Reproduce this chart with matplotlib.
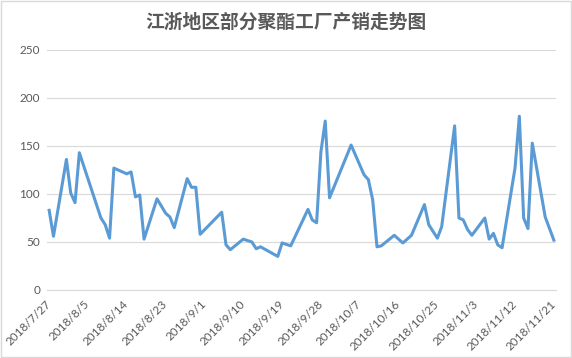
import matplotlib
matplotlib.use("Agg")
import matplotlib.pyplot as plt
import matplotlib.transforms as mtransforms
import pandas as pd
from matplotlib.patches import Rectangle

# trading days and sales ratio (%)
dates = [
    "2018-07-27", "2018-07-28", "2018-07-31", "2018-08-01", "2018-08-02", "2018-08-03",
    "2018-08-08", "2018-08-09", "2018-08-10", "2018-08-11", "2018-08-14", "2018-08-15",
    "2018-08-16", "2018-08-17", "2018-08-18", "2018-08-21", "2018-08-23", "2018-08-24",
    "2018-08-25", "2018-08-28", "2018-08-29", "2018-08-30", "2018-08-31", "2018-09-05",
    "2018-09-06", "2018-09-07", "2018-09-10", "2018-09-12", "2018-09-13", "2018-09-14",
    "2018-09-18", "2018-09-19", "2018-09-21", "2018-09-25", "2018-09-26", "2018-09-27",
    "2018-09-28", "2018-09-29", "2018-09-30", "2018-10-05", "2018-10-08", "2018-10-09",
    "2018-10-10", "2018-10-11", "2018-10-12", "2018-10-15", "2018-10-17", "2018-10-19",
    "2018-10-22", "2018-10-23", "2018-10-25", "2018-10-26", "2018-10-29", "2018-10-30",
    "2018-10-31", "2018-11-01", "2018-11-02", "2018-11-05", "2018-11-06", "2018-11-07",
    "2018-11-08", "2018-11-09", "2018-11-12", "2018-11-13", "2018-11-14", "2018-11-15",
    "2018-11-16", "2018-11-19", "2018-11-21",
]
values = [
    83, 56, 136, 101, 91, 143,
    75, 68, 54, 127, 121, 123,
    97, 99, 53, 95, 80, 76,
    65, 116, 107, 107, 58, 81,
    47, 42, 53, 50, 43, 45,
    35, 49, 46, 84, 73, 70,
    144, 176, 96, 151, 120, 115,
    94, 45, 46, 57, 49, 57,
    89, 68, 54, 66, 171, 75,
    73, 63, 57, 75, 53, 59,
    47, 44, 127, 181, 75, 64,
    153, 76, 52,
]
title = "江浙地区部分聚酯工厂产销走势图"

x = pd.to_datetime(dates)
tick_dates = pd.date_range("2018-07-27", "2018-11-21", freq="9D")
tick_labels = [f"{d.year}/{d.month}/{d.day}" for d in tick_dates]

fig = plt.figure(figsize=(5.72, 3.58), dpi=100)
ax = fig.add_axes([47 / 572, 68 / 358, 509 / 572, 240 / 358])

ax.plot(x, values, color="#5B9BD5", linewidth=2.2, solid_joinstyle="round")

ax.set_xlim(x[0] - pd.Timedelta(hours=12), pd.Timestamp("2018-11-21") + pd.Timedelta(hours=12))
ax.set_ylim(0, 250)
ax.set_yticks(range(0, 251, 50))
ax.set_xticks(tick_dates)
ax.set_xticklabels(tick_labels, rotation=45, ha="right", va="center",
                   rotation_mode="anchor", fontsize=8.5, color="#595959", family="Lato")
shift = mtransforms.ScaledTranslation(5 / 100, 0, fig.dpi_scale_trans)
for lab in ax.get_xticklabels():
    lab.set_transform(lab.get_transform() + shift)
for lab in ax.get_yticklabels():
    lab.set_family("Lato")
ax.tick_params(axis="y", labelsize=8.5, labelcolor="#595959", length=0, pad=5)
ax.tick_params(axis="x", length=0, pad=9)
ax.grid(axis="y", color="#D9D9D9", linewidth=0.8)
ax.set_axisbelow(True)
for side in ["top", "right", "left"]:
    ax.spines[side].set_visible(False)
ax.spines["bottom"].set_color("#D9D9D9")
ax.spines["bottom"].set_linewidth(0.8)

fig.text(0.5, 1 - 22 / 358, title, ha="center", va="center", fontsize=13.5,
         fontweight="bold", color="#595959", family=["Noto Sans CJK SC", "DejaVu Sans"])

fig.patches.append(Rectangle((1 / 572, 1 / 358), 570 / 572, 356 / 358, transform=fig.transFigure,
                             fill=False, edgecolor="#D9D9D9", linewidth=1))

fig.savefig("out.png", dpi=100)
